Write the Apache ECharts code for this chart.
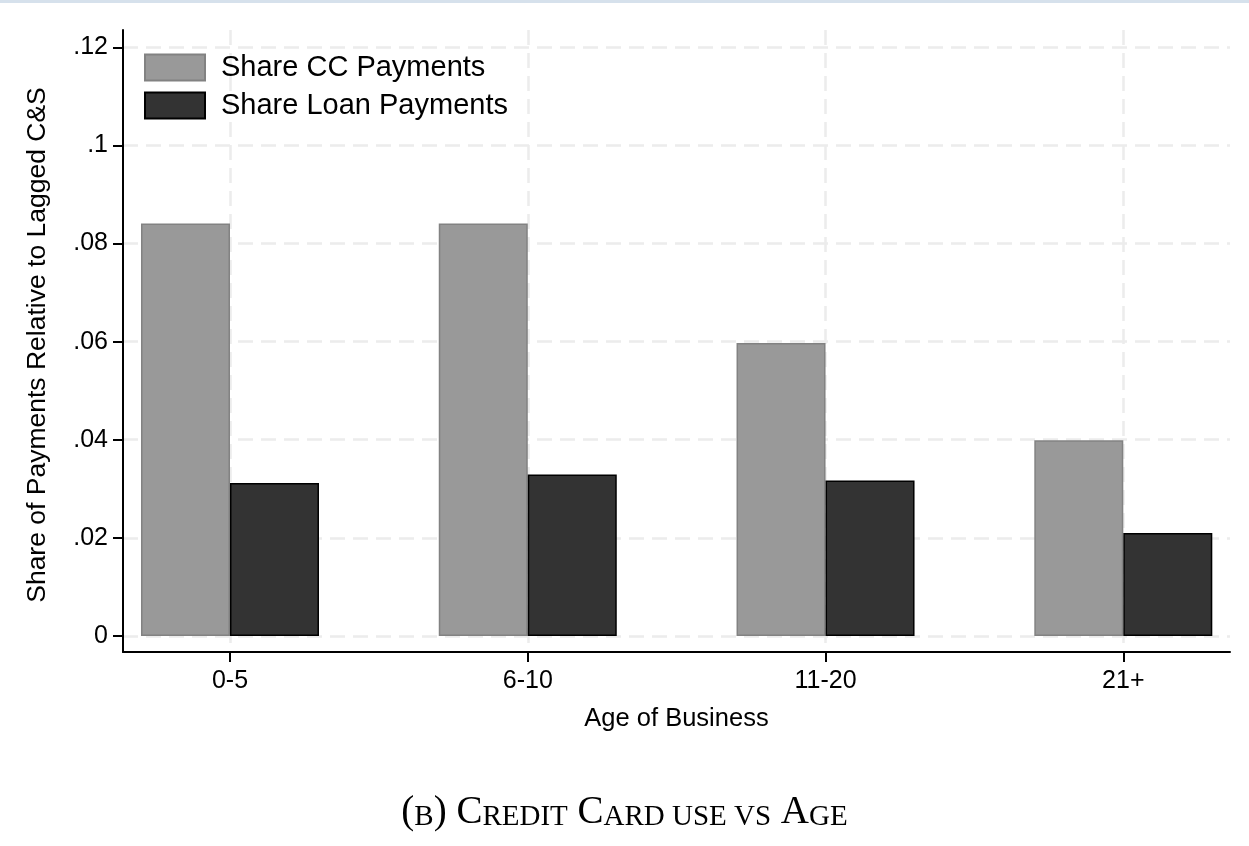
<!DOCTYPE html>
<html>
<head>
<meta charset="utf-8">
<script src="https://cdn.jsdelivr.net/npm/echarts@6/dist/echarts.min.js"></script>
<style>
html,body{margin:0;padding:0;background:#fff;}
#chart{width:1249px;height:846px;}
</style>
</head>
<body>
<div id="chart"></div>
<script>
// ---- data ----
var categories = ['0-5', '6-10', '11-20', '21+'];
var ccShare = [0.0841, 0.0841, 0.0597, 0.0399];
var loanShare = [0.0312, 0.0329, 0.0317, 0.0210];
var yTickValues = [0, 0.02, 0.04, 0.06, 0.08, 0.10, 0.12];
var yTickLabels = ['0', '.02', '.04', '.06', '.08', '.1', '.12'];
var seriesNames = ['Share CC Payments', 'Share Loan Payments'];
var xTitle = 'Age of Business';
var yTitle = 'Share of Payments Relative to Lagged C&S';

var xPositions = categories.map(function (c, i) { return i + 1; });
function pairs(vals) { return vals.map(function (v, i) { return [xPositions[i], v]; }); }

var chart = echarts.init(document.getElementById('chart'), null, {renderer: 'canvas'});
var font = 'Liberation Sans, Arial, sans-serif';
var grid = {color: '#ececec', width: 2.5, type: [15, 8]};

chart.setOption({
  backgroundColor: '#ffffff',
  animation: false,
  grid: {left: 123, right: 19, top: 30, bottom: 194, containLabel: false},
  legend: {
    orient: 'vertical', left: 144, top: 53, padding: 0,
    itemWidth: 60, itemHeight: 26, itemGap: 9,
    icon: 'rect',
    textStyle: {fontFamily: font, fontSize: 29, color: '#000', padding: [2, 0, 0, 11]},
    data: seriesNames
  },
  xAxis: {
    type: 'value', min: 0.6407, max: 4.3583,
    name: xTitle, nameLocation: 'middle', nameGap: 54,
    nameTextStyle: {fontFamily: font, fontSize: 25.5, color: '#000'},
    axisLine: {show: true, onZero: false, lineStyle: {color: '#000', width: 2}},
    axisTick: {show: true, length: 10, lineStyle: {color: '#000', width: 2}, customValues: xPositions},
    axisLabel: {customValues: xPositions, margin: 17, fontFamily: font, fontSize: 25, color: '#000',
      formatter: function (v) { return categories[Math.round(v) - 1]; }},
    splitLine: {show: true, lineStyle: grid}
  },
  yAxis: {
    type: 'value', min: -0.00327, max: 0.12353,
    name: yTitle, nameLocation: 'middle', nameGap: 72,
    nameTextStyle: {fontFamily: font, fontSize: 26.5, color: '#000', padding: [0, 8, 0, 0]},
    axisLine: {show: true, onZero: false, lineStyle: {color: '#000', width: 2}},
    axisTick: {show: true, length: 10, lineStyle: {color: '#000', width: 2}, customValues: yTickValues},
    axisLabel: {customValues: yTickValues, margin: 15, fontFamily: font, fontSize: 25, color: '#000',
      formatter: function (v) {
        for (var i = 0; i < yTickValues.length; i++) { if (Math.abs(yTickValues[i] - v) < 1e-9) return yTickLabels[i]; }
        return '';
      }},
    splitLine: {show: true, lineStyle: grid}
  },
  series: [
    {
      name: seriesNames[0], type: 'bar', barWidth: 89, barGap: '0%',
      itemStyle: {color: '#999999', borderColor: '#828282', borderWidth: 1.5},
      data: pairs(ccShare)
    },
    {
      name: seriesNames[1], type: 'bar', barWidth: 89, barGap: '0%',
      itemStyle: {color: '#333333', borderColor: '#000000', borderWidth: 1.5},
      data: pairs(loanShare)
    }
  ],
  graphic: [
    {type: 'rect', left: 0, top: 0, shape: {x: 0, y: 0, width: 1249, height: 3}, style: {fill: '#d6e1ec'}, silent: true},
    {type: 'text', left: 'center', top: 793,
      style: {
        text: '{b|(}{s|B}{b|) C}{s|REDIT}{b| C}{s|ARD USE VS}{b| A}{s|GE}',
        rich: {
          b: {fontFamily: 'Liberation Serif, serif', fontSize: 39, fill: '#000', verticalAlign: 'bottom'},
          s: {fontFamily: 'Liberation Serif, serif', fontSize: 29, fill: '#000', verticalAlign: 'bottom'}
        }
      }
    }
  ]
});
</script>
</body>
</html>
